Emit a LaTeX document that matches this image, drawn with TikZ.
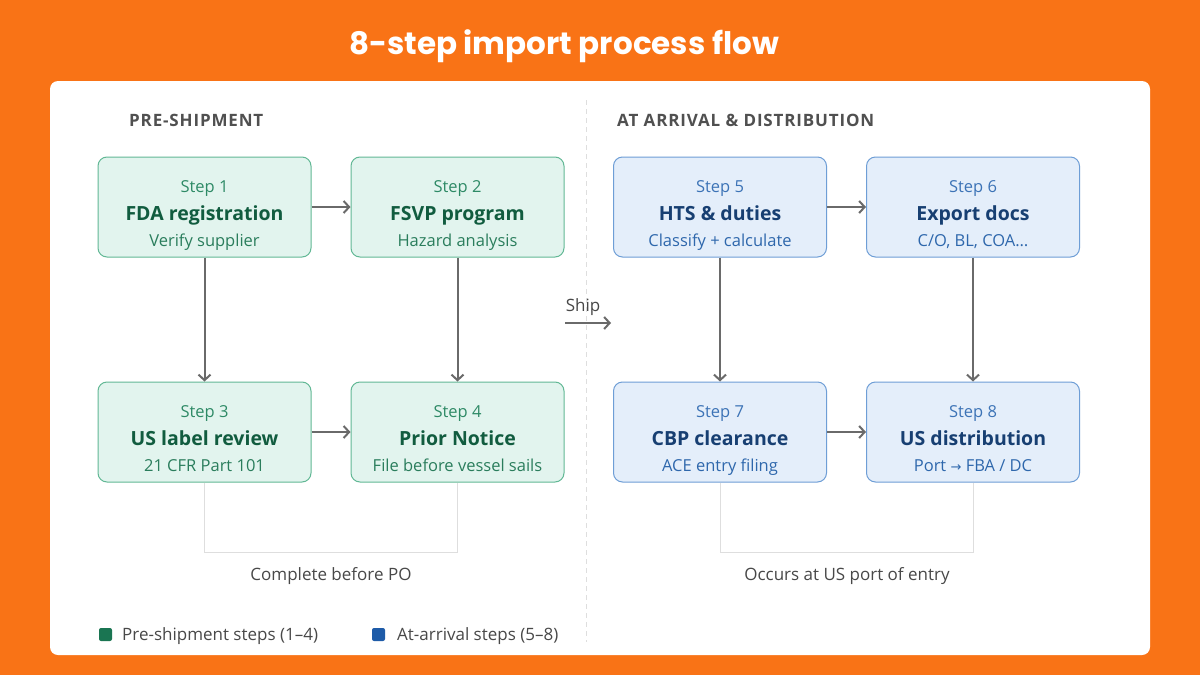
\documentclass[tikz,border=0pt]{standalone}
\usepackage{fontspec}
\setmainfont{Open Sans}
\newfontfamily\titlefont{Poppins}
\usetikzlibrary{arrows.meta,calc}
\definecolor{bgorange}{HTML}{F97316}
\definecolor{gfill}{HTML}{E2F4EE}
\definecolor{gborder}{HTML}{62B895}
\definecolor{gstepc}{HTML}{2E8A66}
\definecolor{gtitlec}{HTML}{115C3F}
\definecolor{gsubc}{HTML}{2A7D5C}
\definecolor{bfill}{HTML}{E4EEFA}
\definecolor{bborder}{HTML}{6E9ED6}
\definecolor{bstepc}{HTML}{3C73B6}
\definecolor{btitlec}{HTML}{173F72}
\definecolor{bsubc}{HTML}{2E67AC}
\definecolor{arrgray}{HTML}{6A6A6A}
\definecolor{lightgray}{HTML}{DEDEDE}
\definecolor{textgray}{HTML}{484848}
\definecolor{headgray}{HTML}{505050}
\definecolor{leggreen}{HTML}{1A7552}
\definecolor{legblue}{HTML}{1E5BA8}
\tikzset{
  box/.style={rounded corners=9pt, minimum width=213pt, minimum height=100pt, line width=1pt, inner sep=0pt},
  greenbox/.style={box, draw=gborder, fill=gfill},
  bluebox/.style={box, draw=bborder, fill=bfill},
  steplbl/.style={inner sep=0pt, font=\fontsize{16.5}{19}\selectfont},
  titlelbl/.style={inner sep=0pt, font=\bfseries\fontsize{19.5}{23}\selectfont},
  sublbl/.style={inner sep=0pt, font=\fontsize{16.5}{19}\selectfont},
  greenstep/.style={steplbl, text=gstepc},
  greentitle/.style={titlelbl, text=gtitlec},
  greensub/.style={sublbl, text=gsubc},
  bluestep/.style={steplbl, text=bstepc},
  bluetitle/.style={titlelbl, text=btitlec},
  bluesub/.style={sublbl, text=bsubc},
  arr/.style={draw=arrgray, line width=2pt, -{Straight Barb[length=5.5pt,width=12pt,line width=2pt]}},
  bracket/.style={draw=lightgray, line width=1pt},
  header/.style={inner sep=0pt, anchor=base west, text=headgray, font=\bfseries\fontsize{17}{20}\selectfont\addfontfeature{LetterSpace=5}},
  note/.style={inner sep=0pt, text=textgray, font=\fontsize{17}{20}\selectfont},
  legsq/.style={rounded corners=2pt, minimum size=13pt, inner sep=0pt},
}
\newcommand\mkstep[7]{%
  \node[#4box] (#1) at (#2,#3) {};
  \node[#4step, anchor=base] (#1a) at ([yshift=15pt]#1.center) {#5};
  \node[#4title, anchor=base] (#1b) at ([yshift=-13pt]#1.center) {#6};
  \node[#4sub, anchor=base] (#1c) at ([yshift=-39pt]#1.center) {#7};
}
\begin{document}
\begin{tikzpicture}[x=1pt,y=-1pt]
\fill[bgorange] (0,0) rectangle (1200,675);
\useasboundingbox (0,0) rectangle (1200,675);
\node[inner sep=0pt, text=white, font=\titlefont\bfseries\fontsize{31}{35}\selectfont] (title) at (564,46) {8-step import process flow};
\fill[white, rounded corners=8pt] (50,81) rectangle (1150,655);
\draw[lightgray, line width=1pt, dash pattern=on 5pt off 4pt] (586,100) -- (586,642);
\node[header] (h1) at (129,126) {PRE-SHIPMENT};
\node[header] (h2) at (617,126) {AT ARRIVAL \& DISTRIBUTION};
\mkstep{s1}{204.5}{207}{green}{Step 1}{FDA registration}{Verify supplier}
\mkstep{s2}{457.5}{207}{green}{Step 2}{FSVP program}{Hazard analysis}
\mkstep{s3}{204.5}{432}{green}{Step 3}{US label review}{21 CFR Part 101}
\mkstep{s4}{457.5}{432}{green}{Step 4}{Prior Notice}{File before vessel sails}
\mkstep{s5}{720}{207}{blue}{Step 5}{HTS \& duties}{Classify + calculate}
\mkstep{s6}{973}{207}{blue}{Step 6}{Export docs}{C/O, BL, COA\ldots}
\mkstep{s7}{720}{432}{blue}{Step 7}{CBP clearance}{ACE entry filing}
\mkstep{s8}{973}{432}{blue}{Step 8}{US distribution}{Port {\fontspec{DejaVu Sans}\fontsize{13}{16}\selectfont →} FBA / DC}
\draw[arr] (s1) -- (s2);
\draw[arr] (s3) -- (s4);
\draw[arr] (s1) -- (s3);
\draw[arr] (s2) -- (s4);
\draw[arr] (s5) -- (s6);
\draw[arr] (s7) -- (s8);
\draw[arr] (s5) -- (s7);
\draw[arr] (s6) -- (s8);
\draw[bracket] (s3.south) -- ++(0,70) -| (s4.south);
\draw[bracket] (s7.south) -- ++(0,70) -| (s8.south);
\node[note] (n1) at (331,576) {Complete before PO};
\node[note] (n2) at (847,576) {Occurs at US port of entry};
\coordinate (shipa) at (565,323);
\coordinate (shipb) at (611,323);
\draw[arr] (shipa) -- (shipb);
\node[note] (ship) at (583,307) {Ship};
\node[legsq, fill=leggreen] (lg) at (105.5,634.5) {};
\node[note, anchor=west] (lgt) at (122,636.5) {Pre-shipment steps (1–4)};
\node[legsq, fill=legblue] (lb) at (378.5,634.5) {};
\node[note, anchor=west] (lbt) at (397,636.5) {At-arrival steps (5–8)};
\end{tikzpicture}
\end{document}
